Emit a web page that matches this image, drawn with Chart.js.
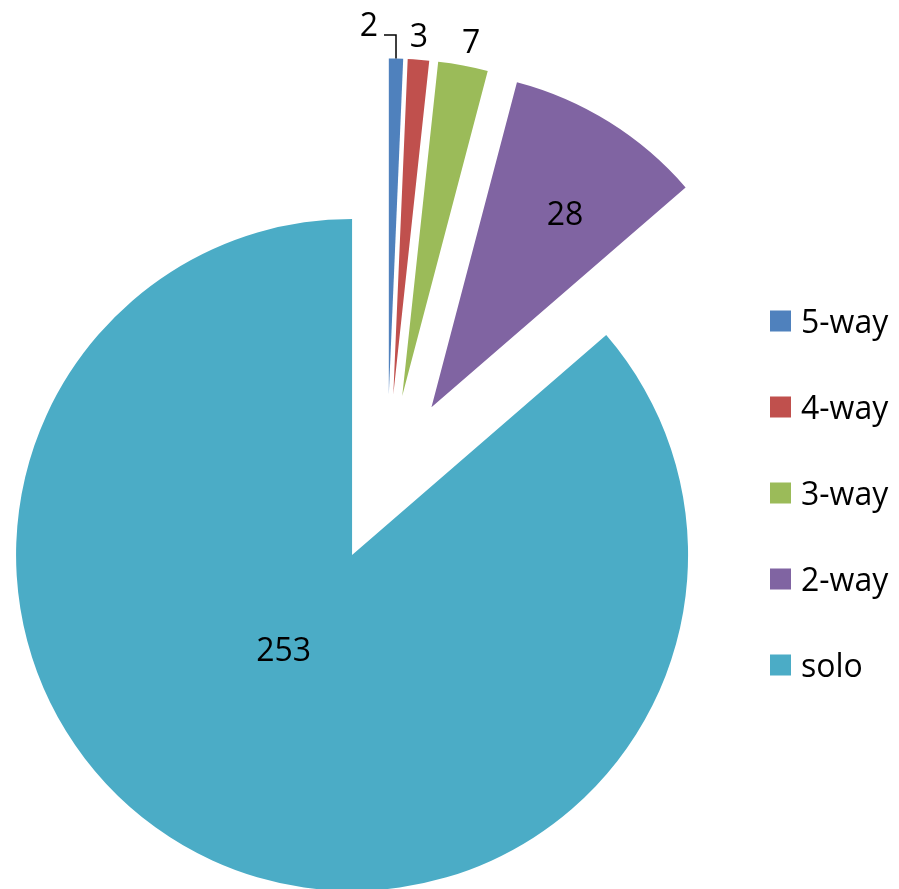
<!DOCTYPE html>
<html>
<head>
<meta charset="utf-8">
<script src="https://cdn.jsdelivr.net/npm/chart.js@4"></script>
<style>
    body { margin: 0; background: #fff; }
    canvas { display: block; }
</style>
</head>
<body>
<canvas id="pie" width="899" height="889"></canvas>
<script>
const categories = ['5-way', '4-way', '3-way', '2-way', 'solo'];
const counts = [2, 3, 7, 28, 253];
const sliceColors = ['#4F81BD', '#C0504D', '#9BBB59', '#8064A2', '#4BACC6'];

// layout of the exploded pie (pixels)
const PIE_RADIUS = 336;
const EXPLODE = 84;
const FONT = '32px "Open Sans", "Noto Sans", sans-serif';

// label placement: distance from slice tip (fraction of radius) and angle nudge (deg)
const labelDist = [1.10, 1.068, 1.069, 0.696, 0.35];
const labelTurn = [-4.3, -0.2, 0.6, 2.9, 11];

// legend
const LEGEND_X = 770;
const LEGEND_Y = 321;
const LEGEND_STEP = 86;
const LEGEND_BOX = 21;

// draw every arc pushed out along its bisector (like an exploded Excel pie),
// without the radius / angle changes that the built-in offset option adds
const explode = {
    id: 'explode',
    beforeDatasetDraw(chart, args) {
        const ctx = chart.ctx;
        args.meta.data.forEach(arc => {
            const half = (arc.startAngle + arc.endAngle) / 2;
            ctx.save();
            ctx.translate(Math.cos(half) * EXPLODE, Math.sin(half) * EXPLODE);
            arc.draw(ctx);
            ctx.restore();
        });
        return false;
    }
};

const sliceLabels = {
    id: 'sliceLabels',
    afterDatasetsDraw(chart) {
        const ctx = chart.ctx;
        ctx.save();
        ctx.font = FONT;
        ctx.fillStyle = '#000';
        ctx.textAlign = 'center';
        ctx.textBaseline = 'middle';
        chart.getDatasetMeta(0).data.forEach((arc, i) => {
            const half = (arc.startAngle + arc.endAngle) / 2;
            const tipX = arc.x + Math.cos(half) * EXPLODE;
            const tipY = arc.y + Math.sin(half) * EXPLODE;
            const a = half + labelTurn[i] * Math.PI / 180;
            const lx = tipX + Math.cos(a) * labelDist[i] * PIE_RADIUS;
            const ly = tipY + Math.sin(a) * labelDist[i] * PIE_RADIUS;
            ctx.fillText(String(counts[i]), lx, ly + 1);

            if (i === 0) {
                // leader line for the thinnest slice
                const ex = tipX + Math.cos(half) * PIE_RADIUS;
                const ey = tipY + Math.sin(half) * PIE_RADIUS;
                ctx.beginPath();
                ctx.strokeStyle = '#000';
                ctx.lineWidth = 1.5;
                ctx.moveTo(ex, ey);
                ctx.lineTo(ex, ly + 9.5);
                ctx.lineTo(ex - 12, ly + 9.5);
                ctx.stroke();
            }
        });

        ctx.textAlign = 'left';
        ctx.textBaseline = 'alphabetic';
        categories.forEach((name, i) => {
            const cy = LEGEND_Y + i * LEGEND_STEP;
            ctx.fillStyle = sliceColors[i];
            ctx.fillRect(LEGEND_X, cy - LEGEND_BOX / 2, LEGEND_BOX, LEGEND_BOX);
            ctx.fillStyle = '#000';
            ctx.fillText(name, LEGEND_X + 31, cy + 11.5);
        });
        ctx.restore();
    }
};

new Chart(document.getElementById('pie'), {
    type: 'pie',
    data: {
        labels: categories,
        datasets: [{
            data: counts,
            backgroundColor: sliceColors,
            borderWidth: 0,
            radius: PIE_RADIUS
        }]
    },
    options: {
        responsive: false,
        animation: false,
        layout: {
            padding: { left: 0, right: 125, top: 68, bottom: 0 }
        },
        plugins: {
            legend: { display: false },
            tooltip: { enabled: false }
        }
    },
    plugins: [explode, sliceLabels]
});
</script>
</body>
</html>
